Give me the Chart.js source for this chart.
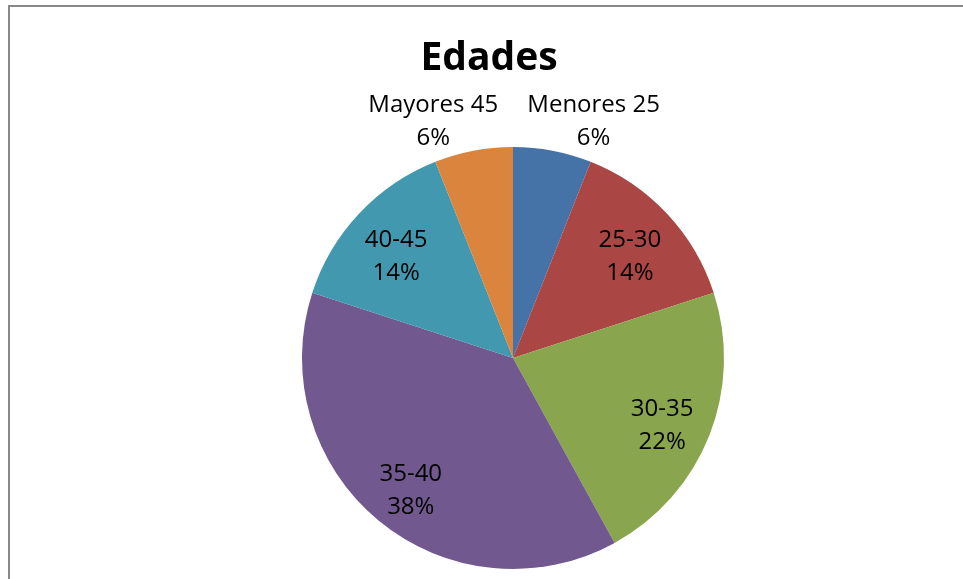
<!DOCTYPE html>
<html>
<head>
<meta charset="utf-8">
<script src="https://cdn.jsdelivr.net/npm/chart.js@4.4.1/dist/chart.umd.min.js"></script>
<style>
  html, body { margin: 0; padding: 0; background: #fff; }
  #wrap { position: absolute; left: 0; top: 0; width: 963px; height: 579px; }
</style>
</head>
<body>
<div id="wrap"><canvas id="edadesChart" width="963" height="579"></canvas></div>
<script>
// Edades - pie chart

const categories = ["Menores 25", "25-30", "30-35", "35-40", "40-45", "Mayores 45"];
const percents = [6, 14, 22, 38, 14, 6];
const sliceColors = ["#4572A7", "#AA4643", "#89A54E", "#71588F", "#4198AF", "#DB843D"];
const chartTitle = "Edades";

const FONT = "'Open Sans', 'DejaVu Sans', sans-serif";

// frame + title + slice labels
const excelLook = {
  id: "excelLook",
  beforeDraw(chart) {
    const ctx = chart.ctx;
    ctx.save();
    ctx.fillStyle = "#ffffff";
    ctx.fillRect(0, 0, chart.width, chart.height);
    ctx.fillStyle = "#898989";
    ctx.fillRect(8, 5, chart.width - 8, 2);
    ctx.fillRect(8, 5, 2, chart.height - 5);
    ctx.restore();
  },
  afterDatasetsDraw(chart) {
    const ctx = chart.ctx;
    ctx.save();
    ctx.fillStyle = "#000";
    ctx.textAlign = "center";
    ctx.textBaseline = "alphabetic";

    ctx.font = "bold 39px " + FONT;
    ctx.fillText(chartTitle, 489, 70);

    const size = 24;
    ctx.font = size + "px " + FONT;
    const lineH = 33;
    const capHalf = size * 0.714 / 2;
    const meta = chart.getDatasetMeta(0);
    const total = percents.reduce((a, b) => a + b, 0);
    meta.data.forEach((arc, i) => {
      const mid = (arc.startAngle + arc.endAngle) / 2;
      const r = arc.outerRadius;
      const cos = Math.cos(mid), sin = Math.sin(mid);
      const lines = [categories[i], Math.round(percents[i] / total * 100) + "%"];
      const w = Math.max(...lines.map(t => ctx.measureText(t).width));
      const h = lineH * lines.length;
      let cx, cy;
      if (percents[i] / total >= 0.1) {
        cx = arc.x + r * 0.76 * cos;
        cy = arc.y + r * 0.76 * sin + 7;
      } else {
        const px = arc.x + r * cos, py = arc.y + r * sin;
        cx = px + Math.sign(cos) * w * 0.31;
        cy = py + sin * h / 2 + 2;
      }
      lines.forEach((t, k) => {
        const capCenter = cy - h / 2 + lineH / 2 + k * lineH;
        ctx.fillText(t, cx, capCenter + capHalf);
      });
    });
    ctx.restore();
  }
};

new Chart(document.getElementById("edadesChart").getContext("2d"), {
  type: "pie",
  data: {
    labels: categories,
    datasets: [{
      data: percents,
      backgroundColor: sliceColors,
      borderWidth: 0,
      hoverOffset: 0
    }]
  },
  options: {
    responsive: false,
    animation: false,
    layout: { padding: { top: 147, bottom: 10, left: 263, right: 200 } },
    plugins: {
      legend: { display: false },
      title: { display: false },
      tooltip: { enabled: false }
    }
  },
  plugins: [excelLook]
});
</script>
</body>
</html>
